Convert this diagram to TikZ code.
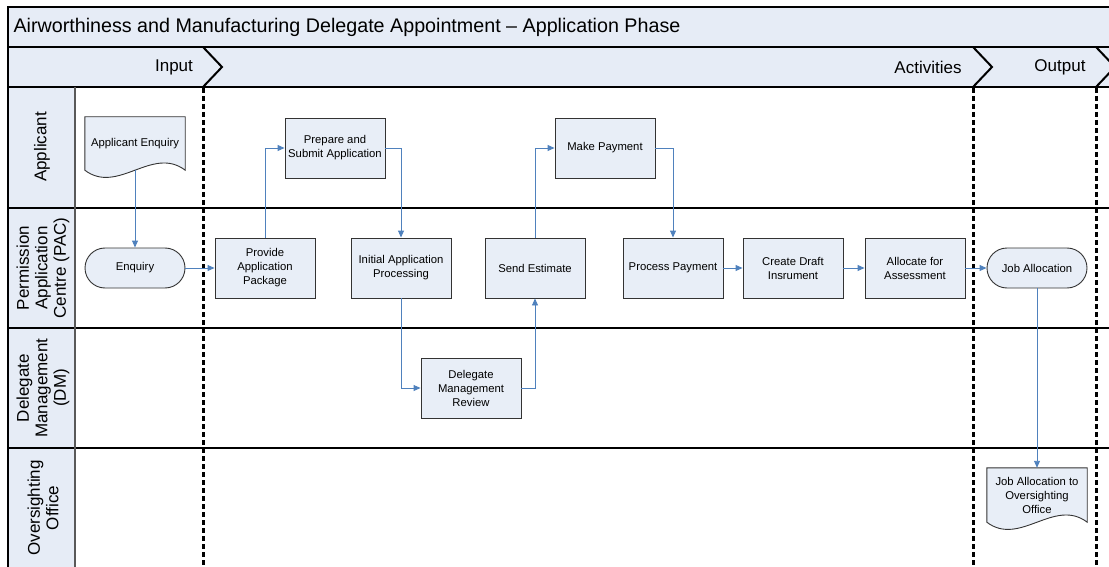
\documentclass[tikz,border=0pt]{standalone}
\usepackage{fontspec}
\setmainfont{Liberation Sans}
\usetikzlibrary{arrows.meta, positioning, backgrounds}
\definecolor{lanefill}{HTML}{E6ECF6}
\definecolor{boxfill}{HTML}{E8EEF7}
\definecolor{flowblue}{HTML}{4F81BD}
\definecolor{boxline}{HTML}{333333}

\begin{document}
\begin{tikzpicture}[x=1pt, y=-1pt,
    task/.style={draw=boxline, fill=boxfill, line width=0.9pt, minimum width=100pt, minimum height=60pt,
                 align=center, inner sep=1pt, font=\fontsize{11.3}{14}\selectfont},
    term/.style={task, minimum height=40pt, rounded corners=20pt},
    docnode/.style={minimum width=100pt, minimum height=53pt, align=center, inner sep=1pt,
                    font=\fontsize{11.3}{14}\selectfont},
    docline/.style={draw=boxline, fill=boxfill, line width=0.9pt},
    flow/.style={draw=flowblue, line width=0.9pt, -{Triangle[length=7pt,width=6pt]}},
    lanetext/.style={rotate=90, align=center, font=\fontsize{17}{18.5}\selectfont},
    phase/.style={font=\fontsize{17}{20}\selectfont},
    stage/.style={line width=3pt, dash pattern=on 5pt off 3pt},
    chev/.style={line width=2pt, line join=miter}]
    \useasboundingbox (0,0) rectangle (1109,567);

    % Pool frame and lanes
    \fill[lanefill] (8,7) rectangle (1115,87);
    \fill[lanefill] (8,87) rectangle (75,570);
    \draw[line width=1.2pt] (1115,7) -- (8,7) -- (8,570);
    \draw[line width=1.2pt] (8,47) -- (1115,47);
    \foreach \y in {87,208,328,448} \draw[line width=1.2pt] (8,\y) -- (1115,\y);
    \draw[line width=1.8pt, gray!70!black] (75,87) -- (75,570);

    \node[anchor=west, font=\fontsize{19.7}{22}\selectfont] (title) at (10,27)
        {Airworthiness and Manufacturing Delegate Appointment – Application Phase};

    % Phases
    \foreach \x in {203,973,1096} {
        \draw[chev] (\x,47) -- ++(19,20) -- ++(-19,20);
        \draw[stage] (\x,88) -- (\x,570);
    }
    \node[phase] (input) at (174,67) {Input};
    \node[phase] (activities) at (928,67) {Activities};
    \node[phase] (output) at (1060,67) {Output};

    \node[lanetext] (lapp) at (42,147) {Applicant};
    \node[lanetext] (lpac) at (43,268) {Permission\\Application\\Centre (PAC)};
    \node[lanetext] (ldm) at (43,388) {Delegate\\Management\\(DM)};
    \node[lanetext] (loo) at (43,508) {Oversighting\\Office};

    % Steps
    \node[docnode] (aenq) at (135,143.5) {Applicant Enquiry};
    \node[term] (enq) at (135,268) {Enquiry};
    \node[task] (prov) at (265,268) {Provide\\Application\\Package};
    \node[task] (prep) at (335,148) {Prepare and\\Submit Application};
    \node[task] (init) at (401,268) {Initial Application\\Processing};
    \node[task] (dmr) at (471,388) {Delegate\\Management\\Review};
    \node[task] (send) at (535,268) {Send Estimate};
    \node[task] (pay) at (605,148) {Make Payment};
    \node[task] (proc) at (673,268) {Process Payment};
    \node[task] (draft) at (793,268) {Create Draft\\Insrument};
    \node[task] (alloc) at (915,268) {Allocate for\\Assessment};
    \node[term] (joba) at (1037,268) {Job Allocation};
    \node[docnode, minimum height=54pt] (jdoc) at (1037,495) {Job Allocation to\\Oversighting\\Office};

    \begin{scope}[on background layer]
        \foreach \d in {aenq,jdoc}
            \draw[docline] (\d.north west) -- (\d.north east) -- (\d.south east)
                .. controls +(-33,-25) and +(33,25) .. (\d.south west) -- cycle;
    \end{scope}

    % Flow
    \draw[flow] (aenq.south) -- (enq.north);
    \draw[flow] (enq) -- (prov);
    \draw[flow] (prov.north) |- (prep.west);
    \draw[flow] (prep.east) -| (init.north);
    \draw[flow] (init.south) |- (dmr.west);
    \draw[flow] (dmr.east) -| (send.south);
    \draw[flow] (send.north) |- (pay.west);
    \draw[flow] (pay.east) -| (proc.north);
    \draw[flow] (proc) -- (draft);
    \draw[flow] (draft) -- (alloc);
    \draw[flow] (alloc) -- (joba);
    \draw[flow] (joba.south) -- (jdoc.north);
\end{tikzpicture}
\end{document}
